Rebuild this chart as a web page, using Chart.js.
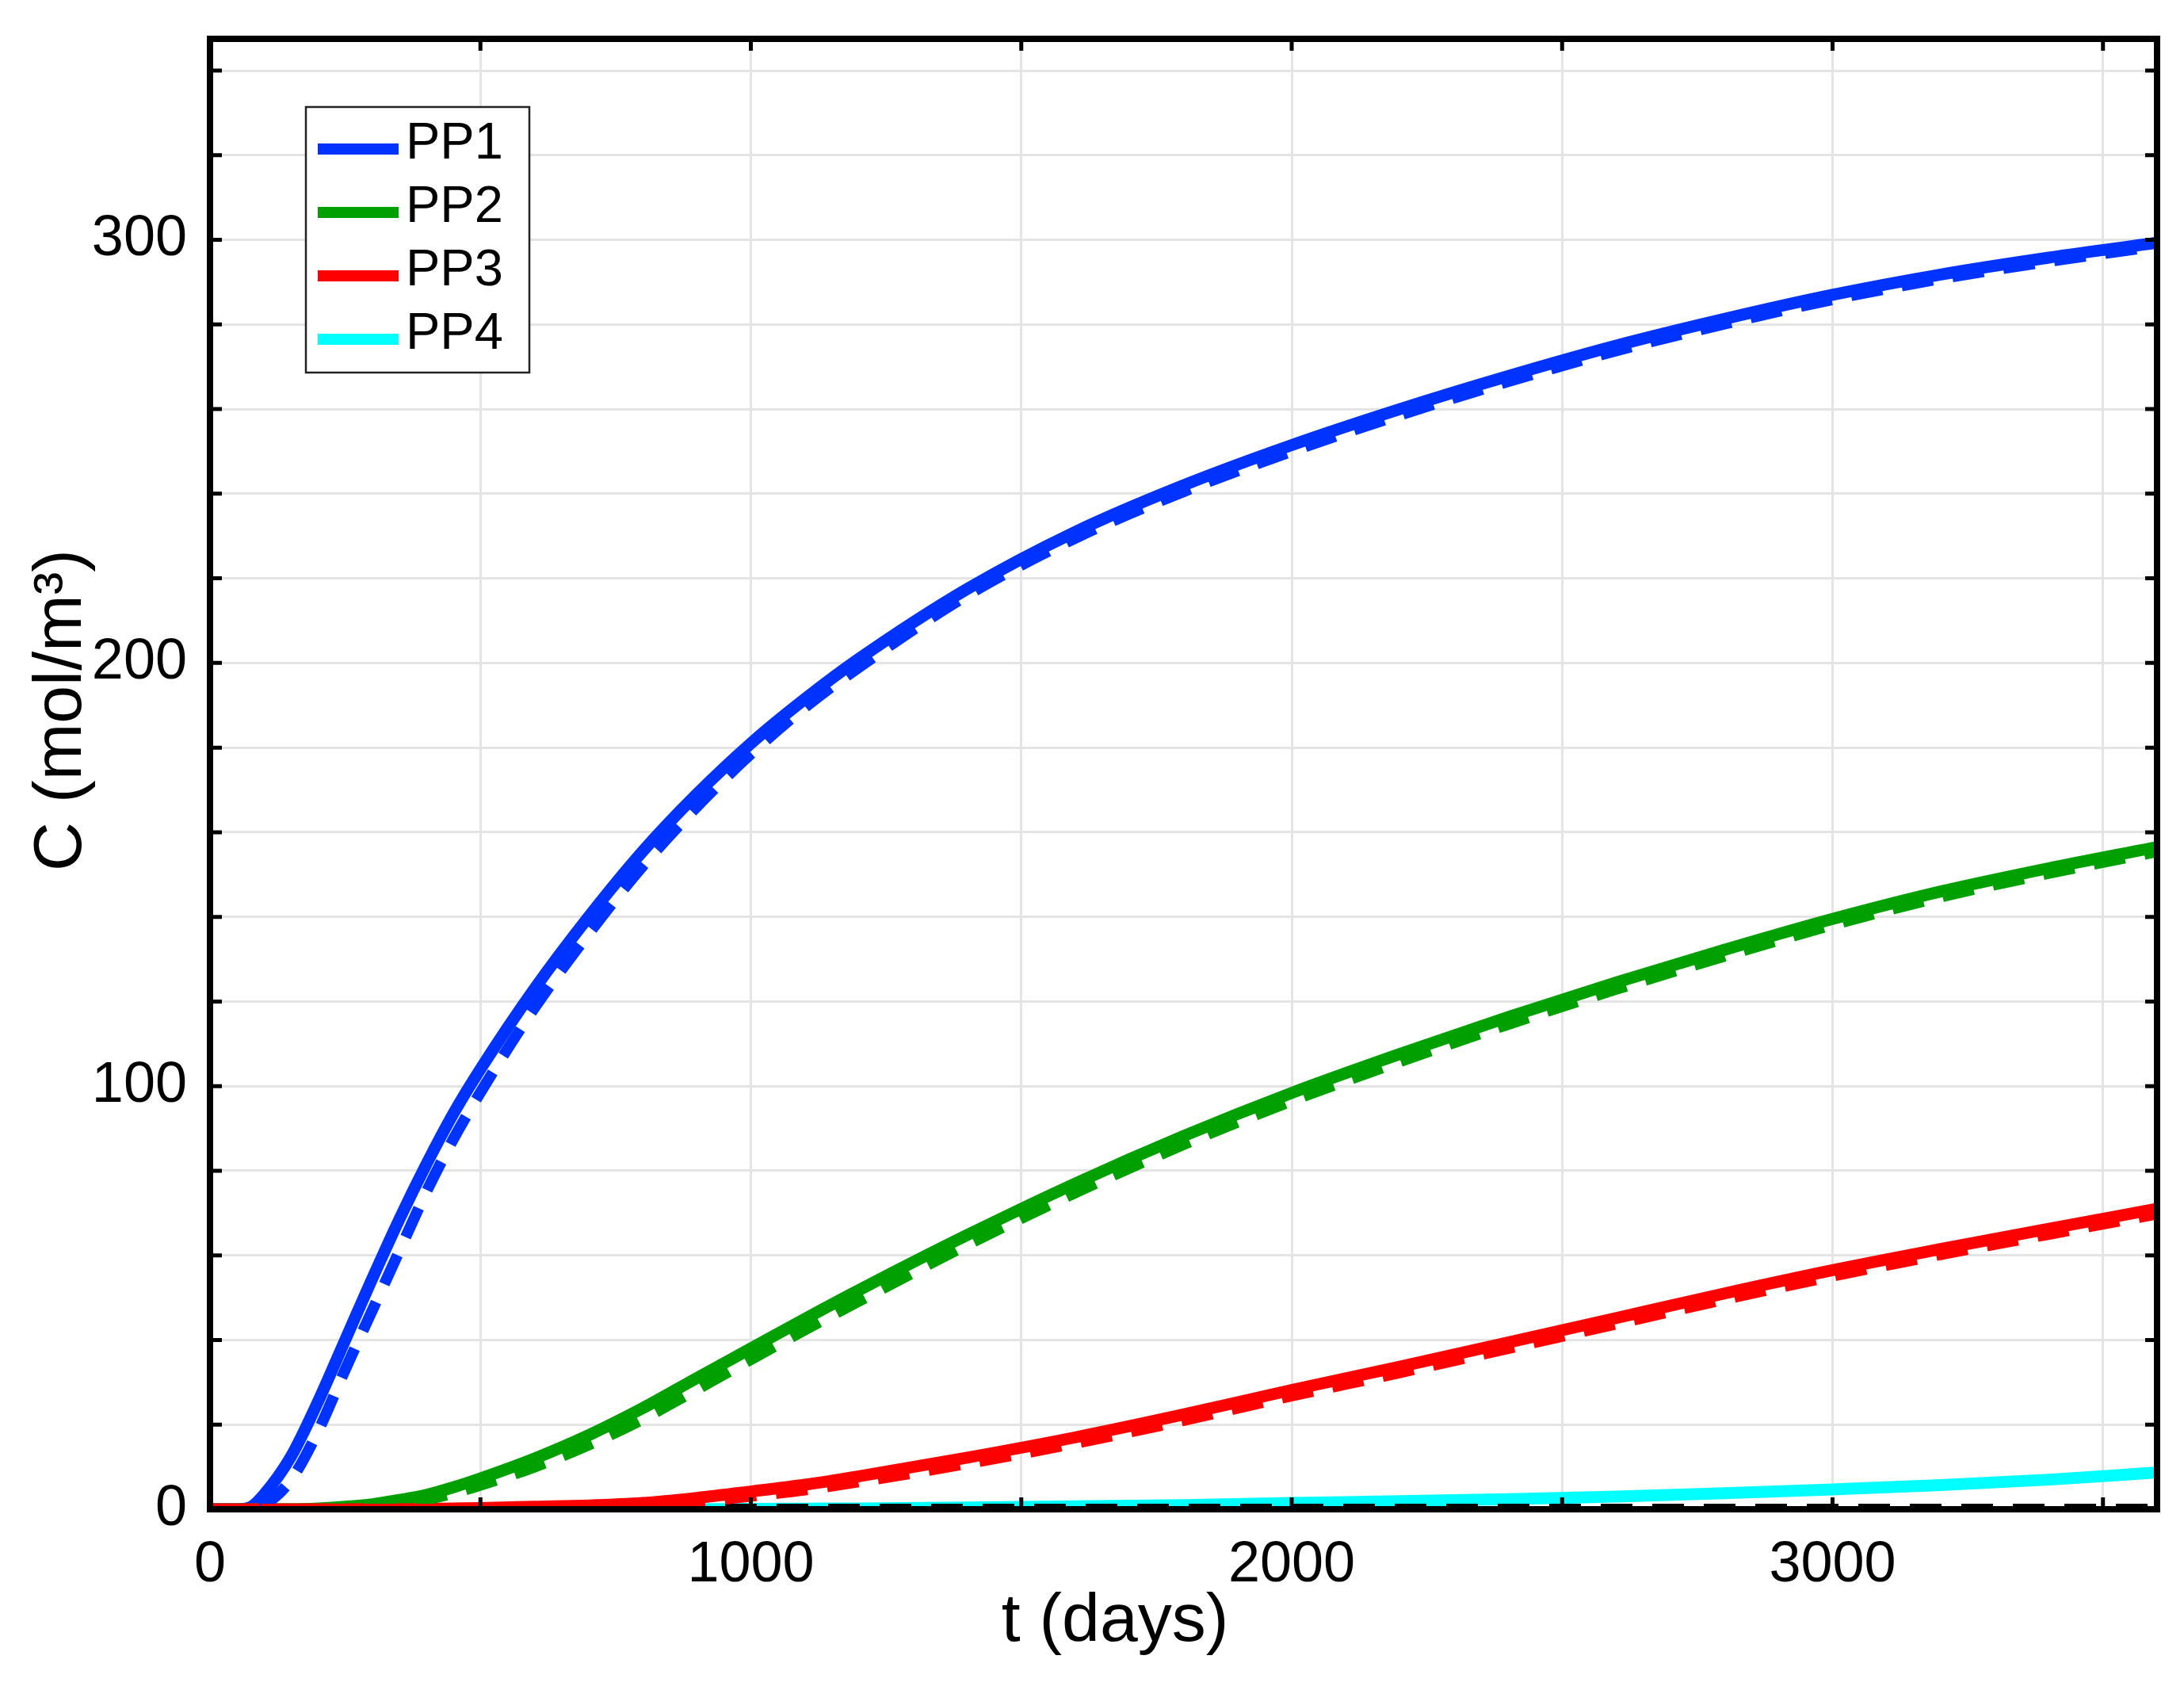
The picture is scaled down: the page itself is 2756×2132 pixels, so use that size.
<!DOCTYPE html>
<html>
<head>
<meta charset="utf-8">
<title>C vs t</title>
<script src="https://cdn.jsdelivr.net/npm/chart.js@4.4.1/dist/chart.umd.min.js"></script>
<style>
  body { margin: 0; background: #fff; }
  #chart { display: block; }
</style>
</head>
<body>
<canvas id="chart" width="2756" height="2132"></canvas>
<script>
// time axis (days) shared by every curve
const tDays = [0, 50, 75, 100, 150, 200, 250, 300, 350, 400, 450, 500, 600, 700, 800, 900,
               1000, 1100, 1200, 1400, 1600, 1800, 2000, 2200, 2400, 2600, 2800, 3000, 3200, 3400, 3600];

// solid curves (C in mol/m3)
const pp1 = [0, 0, 0.5, 3.5, 12.5, 25.5, 40, 54.5, 68.5, 81.5, 93.5, 104, 123, 140, 155.5, 169,
             181, 191.5, 201, 217.5, 231, 242, 251.5, 260, 267.8, 275, 281.3, 287, 291.8, 295.8, 299.3];
const pp2 = [0, 0, 0, 0, 0, 0.2, 0.6, 1.2, 2.2, 3.4, 5.2, 7.3, 12, 17.5, 23.9, 31,
             38, 45, 51.8, 64.8, 77, 88.2, 98.4, 107.6, 116.3, 124.5, 132.2, 139.5, 146, 151.5, 156.5];
const pp3 = [0, 0, 0, 0, 0, 0, 0, 0, 0, 0.1, 0.2, 0.3, 0.6, 0.9, 1.5, 2.7,
             4.2, 5.8, 7.8, 12.2, 17, 22.4, 28.2, 33.7, 39.4, 45.2, 51, 56.5, 61.5, 66.3, 71];
const pp4 = [0, 0, 0, 0, 0, 0, 0, 0, 0, 0, 0, 0, 0, 0, 0, 0,
             0.1, 0.15, 0.2, 0.4, 0.7, 1.0, 1.5, 1.9, 2.4, 3.0, 3.8, 4.7, 5.7, 7.0, 8.7];

// dashed companion curves
const pp1Dash = [0, 0, 0, 1, 7, 18.5, 33, 47, 61, 75, 87.5, 98.5, 118.5, 136, 152, 166,
                 178.5, 189.5, 199, 216, 229.5, 240.5, 250, 258.6, 266.5, 273.8, 280.1, 285.9, 290.8, 294.9, 298.5];
const pp2Dash = [0, 0, 0, 0, 0, 0, 0.2, 0.6, 1.3, 2.3, 3.8, 5.7, 10, 15.2, 21.3, 28.3,
                 35.4, 42.4, 49.2, 62.5, 74.8, 86.2, 96.5, 105.8, 114.6, 122.9, 130.7, 138.1, 144.7, 150.3, 155.4];
const pp3Dash = [0, 0, 0, 0, 0, 0, 0, 0, 0, 0, 0, 0, 0.2, 0.4, 0.8, 1.8,
                 3.1, 4.6, 6.5, 10.8, 15.6, 21, 26.8, 32.3, 38, 43.8, 49.6, 55.1, 60.2, 65, 69.8];
const pp4Dash = [0, 0, 0, 0, 0, 0, 0, 0, 0, 0, 0, 0, 0, 0, 0, 0,
                 0, 0, 0, 0, 0, 0, 0, 0, 0, 0, 0, 0, 0, 0, 0];

// grid positions and the ones that carry a label
const xGrid = [0, 500, 1000, 1500, 2000, 2500, 3000, 3500];
const xTickLabels = [0, 1000, 2000, 3000];
const yGrid = [0, 20, 40, 60, 80, 100, 120, 140, 160, 180, 200, 220, 240, 260, 280, 300, 320, 340];
const yTickLabels = [0, 100, 200, 300];

const labels = ['PP1', 'PP2', 'PP3', 'PP4'];
const colors = ['#0033ff', '#00a000', '#ff0000', '#00ffff'];

const FONT = "'Liberation Sans', Arial, Helvetica, sans-serif";
Chart.defaults.font.family = FONT;
Chart.defaults.color = '#000';

const toXY = (vals) => vals.map((v, i) => ({ x: tDays[i], y: v }));

function solid(label, vals, color, order) {
  return {
    label: label, data: toXY(vals), borderColor: color, borderWidth: 15,
    pointRadius: 0, fill: false, cubicInterpolationMode: 'monotone',
    borderCapStyle: 'butt', order: order, inKey: true
  };
}
function dashed(vals, color, order) {
  return {
    label: '', data: toXY(vals), borderColor: color, borderWidth: 14,
    borderDash: [40, 25], pointRadius: 0, fill: false,
    cubicInterpolationMode: 'monotone', borderCapStyle: 'butt', order: order, inKey: false
  };
}

// axis titles, inward tick marks, frame and the boxed key
const decorPlugin = {
  id: 'decor',
  afterDatasetsDraw(chart) {
    const { ctx, chartArea: a, scales } = chart;
    ctx.save();
    ctx.strokeStyle = '#000';
    ctx.lineWidth = 5;
    ctx.beginPath();
    scales.x.ticks.forEach(t => {
      const px = scales.x.getPixelForValue(t.value);
      ctx.moveTo(px, a.bottom); ctx.lineTo(px, a.bottom - 15);
      ctx.moveTo(px, a.top); ctx.lineTo(px, a.top + 15);
    });
    scales.y.ticks.forEach(t => {
      const py = scales.y.getPixelForValue(t.value);
      ctx.moveTo(a.left, py); ctx.lineTo(a.left + 15, py);
      ctx.moveTo(a.right, py); ctx.lineTo(a.right - 15, py);
    });
    ctx.stroke();
    ctx.lineWidth = 8;
    ctx.strokeRect(a.left, a.top, a.right - a.left, a.bottom - a.top);
    ctx.restore();
  },
  afterDraw(chart) {
    const { ctx } = chart;
    ctx.save();
    ctx.fillStyle = '#000';
    ctx.textAlign = 'center';
    ctx.textBaseline = 'middle';
    ctx.font = '86px ' + FONT;
    ctx.fillText('t (days)', 1407, 2046);
    ctx.translate(78, 896);
    ctx.rotate(-Math.PI / 2);
    ctx.fillText('C (mol/m³)', 0, 0);
    ctx.restore();

    // key
    const box = { x: 386, y: 135, w: 282, h: 335 };
    ctx.save();
    ctx.fillStyle = '#fff';
    ctx.fillRect(box.x, box.y, box.w, box.h);
    ctx.strokeStyle = '#222';
    ctx.lineWidth = 2.5;
    ctx.strokeRect(box.x, box.y, box.w, box.h);
    ctx.font = '65px ' + FONT;
    ctx.textAlign = 'left';
    ctx.textBaseline = 'middle';
    const items = chart.data.datasets.filter(d => d.inKey);
    items.forEach((d, i) => {
      const cy = box.y + 47 + i * 80;
      ctx.strokeStyle = d.borderColor;
      ctx.lineWidth = 14;
      ctx.beginPath();
      ctx.moveTo(401, cy + 6);
      ctx.lineTo(503, cy + 6);
      ctx.stroke();
      ctx.fillStyle = '#000';
      ctx.fillText(d.label, 512, cy);
    });
    ctx.restore();
  }
};

const chart = new Chart(document.querySelector('#chart').getContext('2d'), {
  type: 'line',
  data: {
    datasets: [
      solid(labels[0], pp1, colors[0], 6),
      solid(labels[1], pp2, colors[1], 5),
      solid(labels[2], pp3, colors[2], 4),
      solid(labels[3], pp4, colors[3], 9),
      dashed(pp1Dash, colors[0], 3),
      dashed(pp2Dash, colors[1], 2),
      dashed(pp3Dash, colors[2], 1),
      dashed(pp4Dash, '#000000', 8)
    ]
  },
  options: {
    responsive: false,
    animation: false,
    devicePixelRatio: 1,
    layout: { padding: { top: 49, right: 34, left: 0, bottom: 0 } },
    plugins: { legend: { display: false }, tooltip: { enabled: false } },
    scales: {
      x: {
        type: 'linear', min: 0, max: 3600,
        grid: { color: '#e4e4e4', lineWidth: 3, drawTicks: false },
        border: { display: false },
        ticks: {
          autoSkip: false, maxRotation: 0, minRotation: 0,
          padding: 28, font: { size: 72 }, color: '#000',
          callback: (v) => (xTickLabels.includes(v) ? String(v) : '')
        },
        afterBuildTicks: (s) => { s.ticks = xGrid.map(v => ({ value: v })); },
        afterFit: (s) => { s.height = 228; s.paddingLeft = 0; s.paddingRight = 0; }
      },
      y: {
        type: 'linear', min: 0, max: 347.5,
        grid: { color: '#e4e4e4', lineWidth: 3, drawTicks: false },
        border: { display: false },
        ticks: {
          autoSkip: false,
          padding: 29, font: { size: 72 }, color: '#000',
          callback: (v) => (yTickLabels.includes(v) ? String(v) : '')
        },
        afterBuildTicks: (s) => { s.ticks = yGrid.map(v => ({ value: v })); },
        afterFit: (s) => { s.width = 265; s.paddingTop = 0; s.paddingBottom = 0; }
      }
    }
  },
  plugins: [decorPlugin]
});
</script>
</body>
</html>
